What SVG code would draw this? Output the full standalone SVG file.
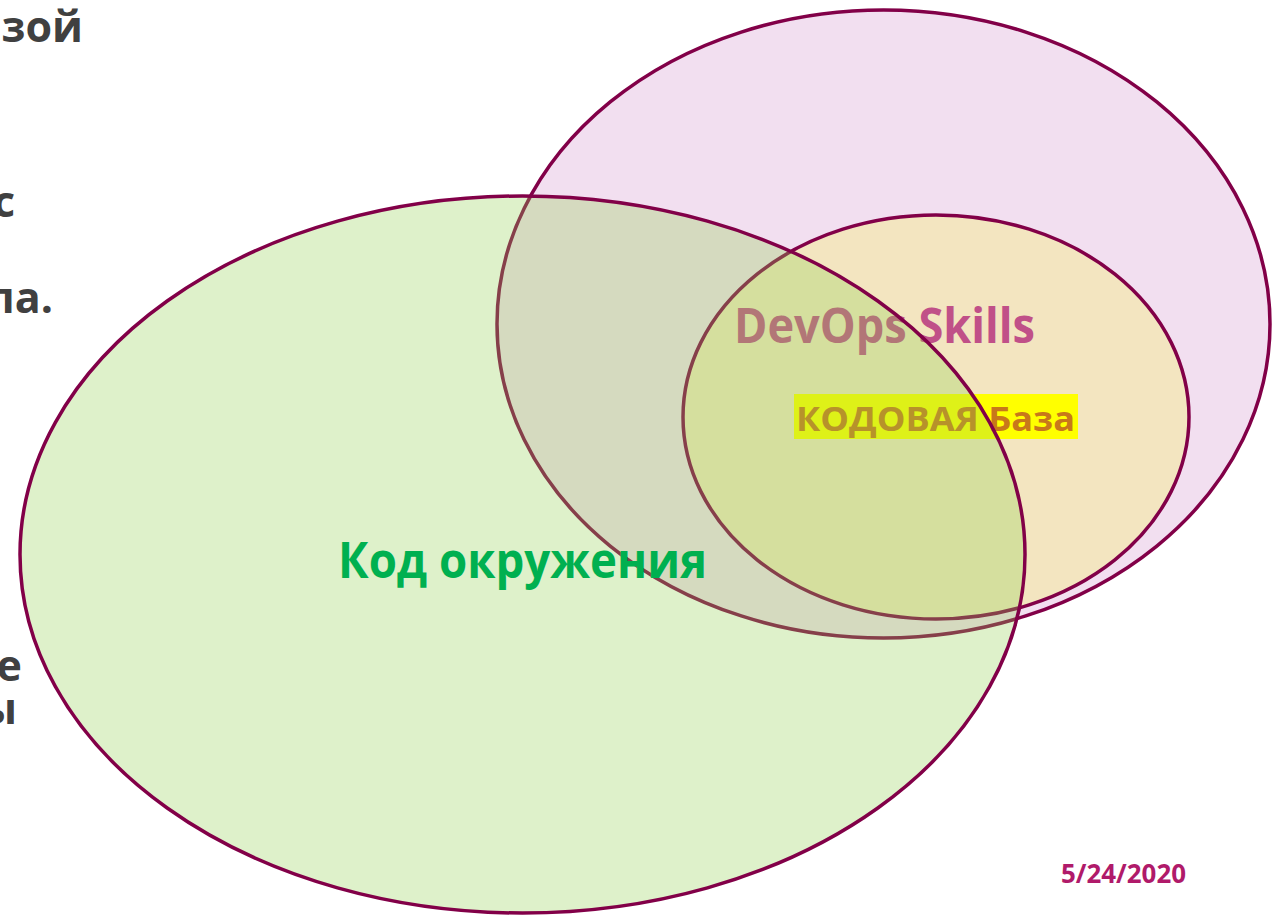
<svg xmlns="http://www.w3.org/2000/svg" width="1273" height="917" viewBox="0 0 1273 917">
<style>
.edge{stroke:#820048;stroke-width:3.5}
.body{font-family:"Open Sans","Liberation Sans",sans-serif;font-weight:bold;fill:#404040;font-size:43px}
.lbl{font-family:"Open Sans","Liberation Sans",sans-serif;font-weight:bold}
</style>
<rect width="1273" height="917" fill="#ffffff"/>
<g id="bodytext">
<text class="body" x="83" y="42" text-anchor="end">изой</text>
<text class="body" x="15" y="217" text-anchor="end">с</text>
<text class="body" x="53" y="313" text-anchor="end">ла.</text>
<text class="body" x="22" y="681" text-anchor="end">е</text>
<text class="body" x="17" y="724" text-anchor="end">ы</text>
</g>
<g id="devops">
<ellipse class="edge" cx="883.5" cy="324" rx="386.5" ry="314" fill="#F2DFF0"/>
</g>
<g id="codebase">
<ellipse class="edge" cx="936" cy="417" rx="253" ry="202" fill="#F3E5C0"/>
</g>
<g id="devops-label">
<text class="lbl" x="734" y="343" font-size="48" fill="#C05088" textLength="301" lengthAdjust="spacingAndGlyphs">DevOps Skills</text>
</g>
<g id="codebase-label">
<rect x="794" y="394" width="284" height="45" fill="#FFFF00"/>
<text class="lbl" x="796" y="431" font-size="34" fill="#C8781A" textLength="279" lengthAdjust="spacingAndGlyphs">КОДОВАЯ База</text>
</g>
<g id="envcode">
<ellipse class="edge" cx="522.5" cy="554.5" rx="502.5" ry="358.5" fill="#92D050" fill-opacity="0.3"/>
</g>
<g id="connectors"></g>
<g id="envcode-label">
<text class="lbl" x="338" y="578" font-size="50" fill="#00B050" textLength="369" lengthAdjust="spacingAndGlyphs">Код окружения</text>
</g>
<g id="date">
<text class="lbl" x="1061" y="883" font-size="27" fill="#B01A6A" textLength="125" lengthAdjust="spacingAndGlyphs">5/24/2020</text>
</g>
</svg>
